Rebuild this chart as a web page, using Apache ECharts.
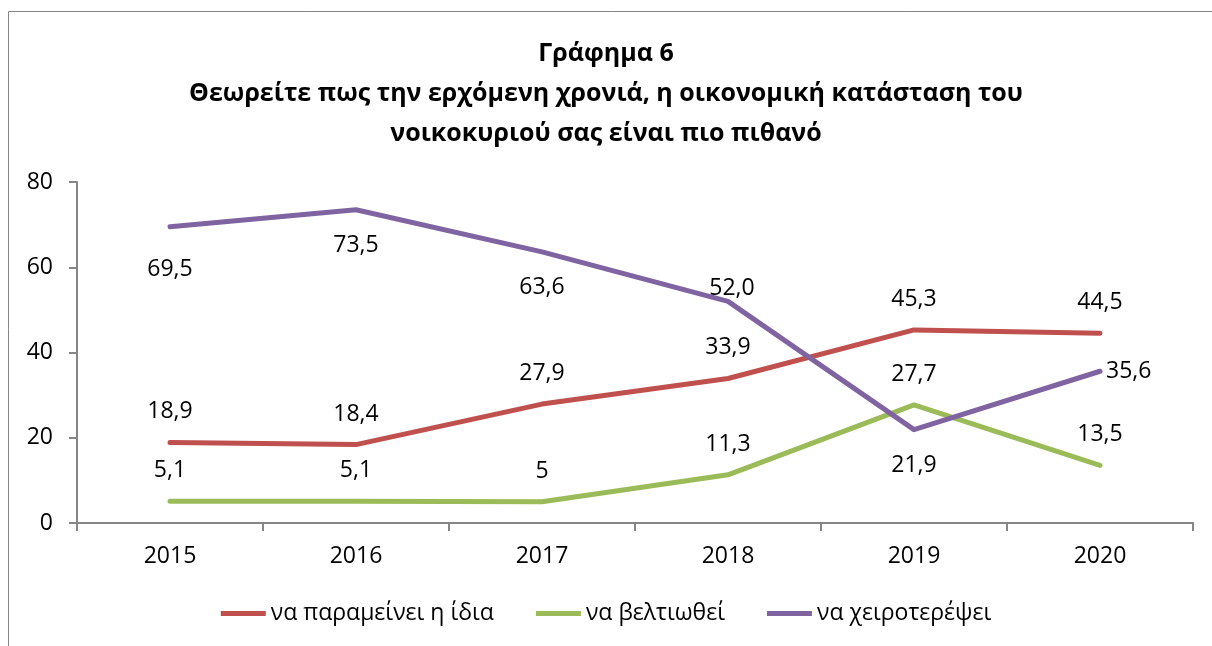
<!DOCTYPE html>
<html><head><meta charset="utf-8">
<script src="https://cdn.jsdelivr.net/npm/echarts@6/dist/echarts.min.js"></script>
<style>html,body{margin:0;padding:0;background:#fff}#c{width:1212px;height:646px}</style>
</head><body><div id="c"></div>
<script>
const years = ['2015','2016','2017','2018','2019','2020'];
const seriesNames = ['να παραμείνει η ίδια','να βελτιωθεί','να χειροτερέψει'];
const sameValues = [18.9, 18.4, 27.9, 33.9, 45.3, 44.5];
const betterValues = [5.1, 5.1, 5.0, 11.3, 27.7, 13.5];
const worseValues = [69.5, 73.5, 63.6, 52.0, 21.9, 35.6];
const sameLabels = ['18,9','18,4','27,9','33,9','45,3','44,5'];
const betterLabels = ['5,1','5,1','5','11,3','27,7','13,5'];
const worseLabels = ['69,5','73,5','63,6','52,0','21,9','35,6'];
const yTicks = [0, 20, 40, 60, 80];

const FONT = 'Open Sans';
const FS = 23;
const colors = ['#C0504D', '#9BBB59', '#8064A2'];

function mk(name, vals, labels, color, placement) {
  return {
    name, type: 'line', data: vals.map((v, i) => {
      const p = placement(i);
      return { value: v, label: Object.assign({ show: true, formatter: labels[i] }, p) };
    }),
    symbol: 'circle', symbolSize: 0.1, showSymbol: true, smooth: false,
    lineStyle: { color, width: 5, cap: 'round', join: 'round' },
    itemStyle: { color },
    label: { show: true, color: '#000', fontFamily: FONT, fontSize: FS },
    emphasis: { disabled: true }
  };
}

const worsePlacement = i => {
  if (i === 0) return { position: 'bottom', distance: 31 };
  if (i === 3) return { position: 'top', distance: 1, offset: [4, 0] };
  if (i === 5) return { position: 'right', distance: 6 };
  return { position: 'bottom', distance: 24 };
};

const chart = echarts.init(document.getElementById('c'));
chart.setOption({
  animation: false,
  title: {
    text: 'Γράφημα 6\nΘεωρείτε πως την ερχόμενη χρονιά, η οικονομική κατάσταση του\nνοικοκυριού σας είναι πιο πιθανό',
    left: 'center', top: 29,
    textStyle: { fontFamily: FONT, fontWeight: 'bold', fontSize: 25, lineHeight: 40, color: '#000' }
  },
  legend: {
    bottom: 16, left: 'center', itemWidth: 45, itemHeight: 5, itemGap: 42,
    icon: 'rect',
    textStyle: { fontFamily: FONT, fontSize: FS, color: '#000' },
    data: seriesNames
  },
  graphic: [{
    type: 'rect', shape: { x: 8.5, y: 11.5, width: 1220, height: 660 },
    style: { fill: 'none', stroke: '#868686', lineWidth: 1 }, silent: true
  }],
  grid: { left: 77, right: 19, top: 182, bottom: 123 },
  xAxis: {
    type: 'category', data: years, boundaryGap: true,
    axisLine: { lineStyle: { color: '#868686', width: 2 } },
    axisTick: { show: true, length: 8, lineStyle: { color: '#868686', width: 2 } },
    axisLabel: { fontFamily: FONT, fontSize: FS, color: '#000', margin: 22 }
  },
  yAxis: {
    type: 'value', min: yTicks[0], max: yTicks[yTicks.length - 1], interval: 20,
    splitLine: { show: false },
    axisLine: { show: true, lineStyle: { color: '#868686', width: 2 } },
    axisTick: { show: true, length: 8, lineStyle: { color: '#868686', width: 2 } },
    axisLabel: { fontFamily: FONT, fontSize: FS, color: '#000', margin: 24 }
  },
  series: [
    mk(seriesNames[0], sameValues, sameLabels, colors[0], () => ({ position: 'top', distance: 19 })),
    mk(seriesNames[1], betterValues, betterLabels, colors[1], () => ({ position: 'top', distance: 19 })),
    mk(seriesNames[2], worseValues, worseLabels, colors[2], worsePlacement)
  ]
});
</script></body></html>
